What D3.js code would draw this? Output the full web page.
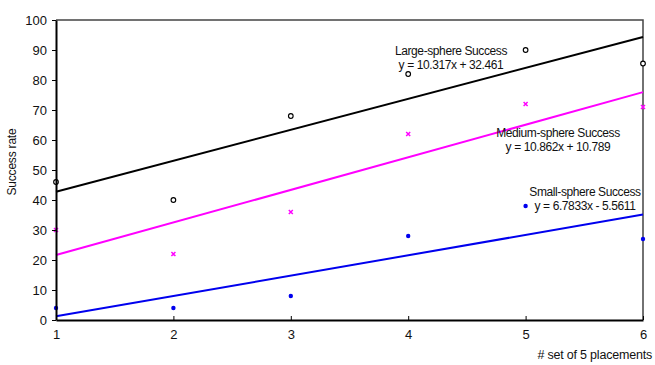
<!DOCTYPE html>
<html>
<head>
  <meta charset="utf-8">
  <style>
    body { margin: 0; background: #fff; }
    text { font-family: "Liberation Sans", Arial, sans-serif; fill: #111; }
    .tick text { font-size: 13px; }
    .note { font-size: 12px; letter-spacing: -0.4px; }
    .ttl { font-size: 12px; letter-spacing: -0.2px; }
  </style>
</head>
<body>
  <script src="https://d3js.org/d3.v7.min.js"></script>
  <script>
    var sets = [1, 2, 3, 4, 5, 6];
    var largeVals  = [46, 40, 68, 82, 90, 85.5];
    var mediumVals = [30, 22, 36, 62, 72, 71];
    var smallVals  = [4, 4, 8, 28, 38, 27];
    // trend lines as printed on the chart: [slope, intercept]
    var largeFit  = [10.317, 32.461];
    var mediumFit = [10.862, 10.789];
    var smallFit  = [6.7833, -5.5611];
    var yTicks = [0, 10, 20, 30, 40, 50, 60, 70, 80, 90, 100];
    var largeLabel  = ["Large-sphere Success", "y = 10.317x + 32.461"];
    var mediumLabel = ["Medium-sphere Success", "y = 10.862x + 10.789"];
    var smallLabel  = ["Small-sphere Success", "y = 6.7833x - 5.5611"];

    var margin = {top: 20, right: 12, bottom: 45, left: 56},
        width = 655 - margin.left - margin.right,
        height = 365 - margin.top - margin.bottom;

    var x = d3.scaleLinear().domain([1, 6]).range([0, 587]),
        y = d3.scaleLinear().domain([0, 100]).range([300, 0]);

    var svg = d3.select("body").append("svg")
        .attr("width", 655)
        .attr("height", 365);
    var g = svg.append("g")
        .attr("transform", "translate(" + margin.left + "," + margin.top + ")");

    // frame top/right
    g.append("path")
        .attr("d", "M0," + y(100) + "H" + x(6) + "V" + y(0))
        .attr("fill", "none").attr("stroke", "#444").attr("stroke-width", 1.5);

    // lx = label centre, ly = first baseline
    var series = [
      {vals: largeVals, fit: largeFit, color: "#000", kind: "circle", label: largeLabel, lx: 395, ly: 35},
      {vals: mediumVals, fit: mediumFit, color: "#ff00ff", kind: "x", label: mediumLabel, lx: 502, ly: 117},
      {vals: smallVals, fit: smallFit, color: "#0000ee", kind: "dot", label: smallLabel, lx: 529, ly: 176}
    ];

    series.forEach(function(s) {
      g.append("line")
          .attr("x1", x(1)).attr("y1", y(s.fit[0] * 1 + s.fit[1]))
          .attr("x2", x(6)).attr("y2", y(s.fit[0] * 6 + s.fit[1]))
          .attr("stroke", s.color).attr("stroke-width", 2);
    });

    series.forEach(function(s) {
      var pts = g.append("g").selectAll("g")
        .data(sets.map(function(d, i) { return [d, s.vals[i]]; }))
        .enter().append("g")
          .attr("transform", function(d) { return "translate(" + x(d[0]) + "," + y(d[1]) + ")"; });
      if (s.kind == "circle") {
        pts.append("circle").attr("r", 2.3).attr("fill", "#fff")
            .attr("stroke", s.color).attr("stroke-width", 1.2);
      } else if (s.kind == "dot") {
        pts.append("circle").attr("r", 2.2).attr("fill", s.color);
      } else {
        pts.append("path").attr("d", "M-2,-2L2,2M-2,2L2,-2")
            .attr("stroke", s.color).attr("stroke-width", 1.5);
      }
      var t = g.append("text").attr("class", "note")
          .attr("x", s.lx).attr("y", s.ly).attr("text-anchor", "middle");
      t.append("tspan").attr("x", s.lx).text(s.label[0]);
      t.append("tspan").attr("x", s.lx).attr("dy", 14).text(s.label[1]);
    });

    var xAxis = g.append("g")
        .attr("transform", "translate(0," + y(0) + ")")
        .call(d3.axisBottom(x).tickValues(sets).tickFormat(d3.format("d")).tickSizeInner(-4).tickSizeOuter(0).tickPadding(10));
    xAxis.select(".domain").attr("stroke", "#000").attr("stroke-width", 2);

    var yAxis = g.append("g")
        .call(d3.axisLeft(y).tickValues(yTicks).tickSizeInner(4).tickSizeOuter(0).tickPadding(5));
    yAxis.select(".domain").attr("stroke", "#000").attr("stroke-width", 2);

    g.append("text").attr("class", "ttl")
        .attr("transform", "rotate(-90)")
        .attr("x", -y(50) + 8).attr("y", -40)
        .attr("text-anchor", "middle")
        .text("Success rate");

    g.append("text").attr("class", "ttl")
        .style("font-size", "12.5px")
        .attr("x", 596).attr("y", 339)
        .attr("text-anchor", "end")
        .text("# set of 5 placements");
  </script>
</body>
</html>
